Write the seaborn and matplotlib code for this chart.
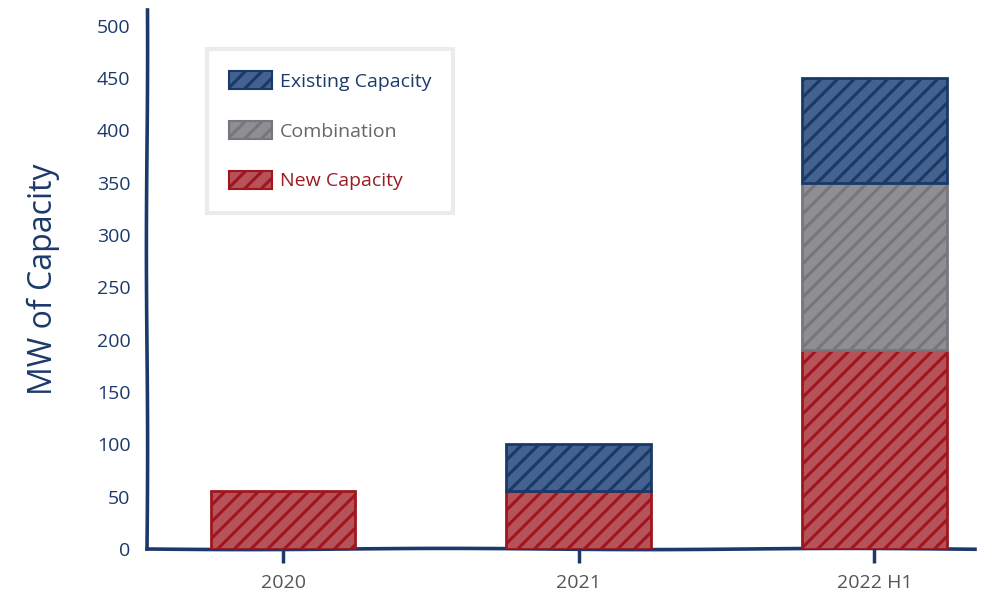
import matplotlib
matplotlib.use("Agg")
import matplotlib.pyplot as plt
import seaborn as sns
import pandas as pd
from matplotlib.patches import Patch

categories = ["2020", "2021", "2022 H1"]
new_capacity = [55, 55, 190]
combination = [0, 0, 160]
existing_capacity = [0, 45, 100]
y_ticks = [0, 50, 100, 150, 200, 250, 300, 350, 400, 450, 500]
grid_lines = [100, 200, 300, 400, 500]

NAVY = "#1b3a6b"
series = [
    ("New Capacity", new_capacity, "#b5525a", "#a0161f", "#9b1b24"),
    ("Combination", combination, "#8e8e93", "#77777b", "#666666"),
    ("Existing Capacity", existing_capacity, "#45628f", "#173a6a", NAVY),
]

sns.set_theme(style="white")
plt.rcParams["font.family"] = ["Open Sans", "DejaVu Sans"]
plt.rcParams["hatch.linewidth"] = 2.2

fig = plt.figure(figsize=(10, 5.99), dpi=100)
ax = fig.add_axes([0.147, 0.0835, 0.828, 0.9])

bottoms = [0] * len(categories)
for name, vals, face, edge, _ in series:
    df = pd.DataFrame({"cat": categories, "val": vals, "bottom": bottoms})
    sub = df[df["val"] > 0]
    sns.barplot(data=sub, x="cat", y="val", order=categories, bottom=sub["bottom"].values,
                color=face, saturation=1, edgecolor=edge, linewidth=2, hatch="//",
                width=0.49, ax=ax, zorder=3)
    bottoms = [b + v for b, v in zip(bottoms, vals)]

ax.set_xlim(-0.46, 2.34)
ax.set_ylim(0, 515)
ax.set_yticks(y_ticks)
ax.set_yticks(grid_lines, minor=True)
ax.grid(which="minor", axis="y", color="#efeff1", linewidth=3, zorder=0)
ax.grid(which="major", visible=False)
ax.tick_params(axis="y", which="both", length=0, pad=12, labelsize=14, labelcolor=NAVY)
ax.tick_params(axis="x", length=10, width=2.5, color=NAVY, pad=8, labelsize=14,
               labelcolor="#555555", bottom=True)
ax.set_xlabel("")
ax.set_ylabel("MW of Capacity", fontsize=23, color=NAVY, labelpad=26)

for side in ["top", "right"]:
    ax.spines[side].set_visible(False)
for side in ["left", "bottom"]:
    ax.spines[side].set_color(NAVY)
    ax.spines[side].set_linewidth(2.6)
    ax.spines[side].set_sketch_params(0.6, 400, 1)

handles = []
labels = []
for name, vals, face, edge, txt in reversed(series):
    handles.append(Patch(facecolor=face, edgecolor=edge, hatch="//", linewidth=1.5))
    labels.append(name)
leg = ax.legend(handles, labels, loc="upper left", bbox_to_anchor=(0.072, 0.928),
                fontsize=14, frameon=True, fancybox=False, handlelength=2.2,
                handleheight=1.05, labelspacing=1.55, borderpad=1.15, handletextpad=0.4,
                borderaxespad=0)
leg.get_frame().set_edgecolor("#e6e6e8")
leg.get_frame().set_linewidth(3)
for t, (_, _, _, _, txt) in zip(leg.get_texts(), reversed(series)):
    t.set_color(txt)

fig.savefig("out.png", dpi=100, facecolor="white")
